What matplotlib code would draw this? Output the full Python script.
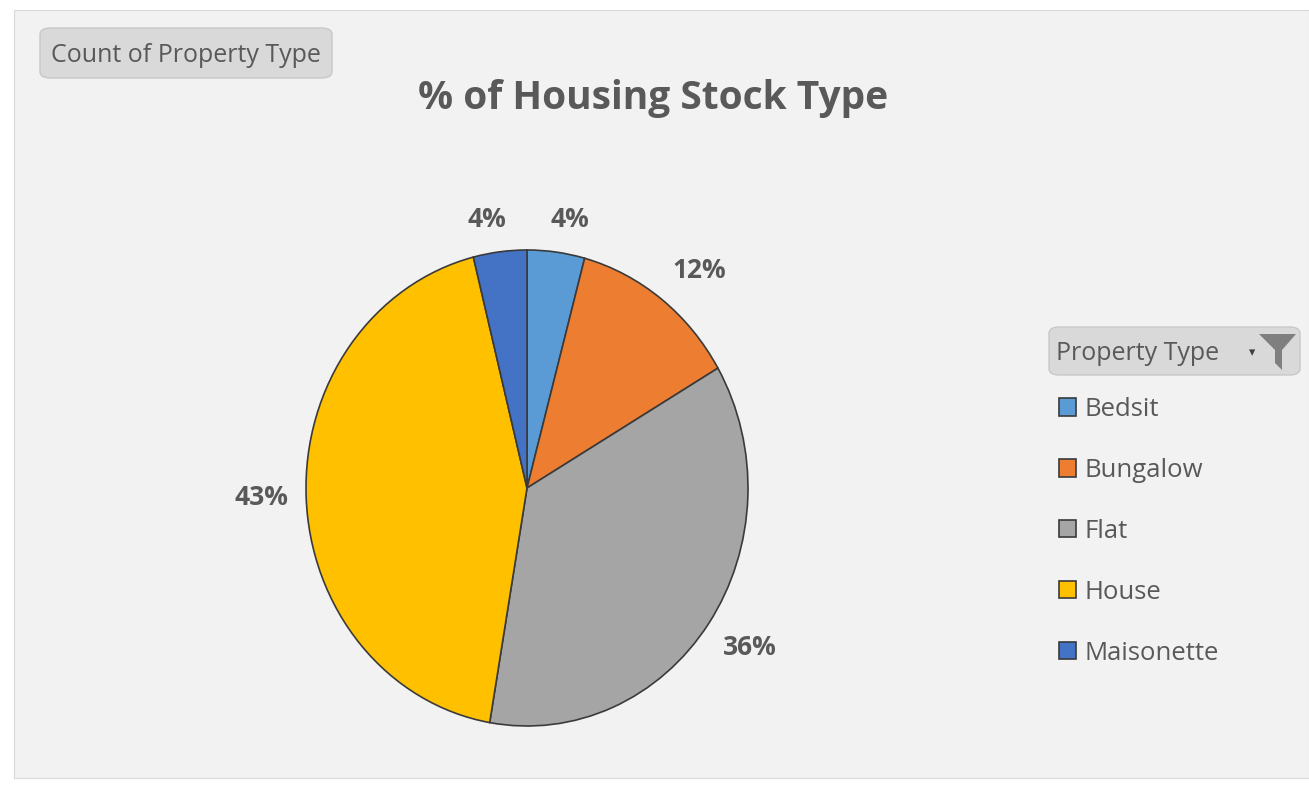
import numpy as np
import matplotlib.pyplot as plt
from matplotlib.patches import FancyBboxPatch, Rectangle, Polygon

# Data (share of housing stock, %)
property_types = ['Bedsit', 'Bungalow', 'Flat', 'House', 'Maisonette']
shares = [4.2, 12.4, 36.1, 43.4, 3.9]
colors = ['#5B9BD5', '#ED7D31', '#A5A5A5', '#FFC000', '#4472C4']

W, H = 1309, 785
plt.rcParams['font.family'] = ['Open Sans', 'DejaVu Sans']
text_col = '#595959'

fig = plt.figure(figsize=(W / 100, H / 100), dpi=100)
fig.patch.set_facecolor('white')

# chart area background
fig.add_artist(Rectangle((14 / W, 1 - 778 / H), (W - 14) / W, 768 / H,
                         transform=fig.transFigure, facecolor='#F2F2F2',
                         edgecolor='#D9D9D9', linewidth=0.8, zorder=0))

# pie axes (slightly stretched vertically like the source)
cx, cy, rx, ry = 527, 488, 221, 238
ax = fig.add_axes([(cx - rx) / W, (H - cy - ry) / H, 2 * rx / W, 2 * ry / H])
wedges, _ = ax.pie(shares, colors=colors, startangle=90, counterclock=False,
                   wedgeprops=dict(edgecolor='#3A3A3A', linewidth=1.2))
ax.set_aspect('auto')
ax.set_xlim(-1, 1)
ax.set_ylim(-1, 1)
ax.patch.set_visible(False)

# outside-end data labels, Excel style
total = sum(shares)
for w, v in zip(wedges, shares):
    ang = np.deg2rad((w.theta1 + w.theta2) / 2)
    c, s = np.cos(ang), np.sin(ang)
    x, y = 1.08 * c, 1.08 * s
    ha = 'left' if c > 0.3 else ('right' if c < -0.3 else 'center')
    va = 'bottom' if s > 0.3 else ('top' if s < -0.3 else 'center')
    if ha == 'center':
        x += 0.05 * np.sign(c)  # spread the two small labels apart a bit
    ax.text(x, y, f'{v / total * 100:.0f}%', ha=ha, va=va,
            fontsize=19, fontweight='bold', color=text_col, clip_on=False)

# title
fig.text(653 / W, 1 - 98 / H, '% of Housing Stock Type', ha='center', va='center',
         fontsize=28, fontweight='bold', color=text_col)

# "Count of Property Type" field button
fig.add_artist(FancyBboxPatch((40 / W, 1 - 78 / H), 292 / W, 50 / H,
                              boxstyle='round,pad=0,rounding_size=0.008',
                              transform=fig.transFigure, facecolor='#D9D9D9',
                              edgecolor='#C8C8C8', linewidth=1))
fig.text(186 / W, 1 - 55 / H, 'Count of Property Type', ha='center', va='center',
         fontsize=18, color=text_col)

# "Property Type" field button with filter icon
fig.add_artist(FancyBboxPatch((1049 / W, 1 - 375 / H), 251 / W, 48 / H,
                              boxstyle='round,pad=0,rounding_size=0.008',
                              transform=fig.transFigure, facecolor='#D9D9D9',
                              edgecolor='#C8C8C8', linewidth=1))
fig.text(1056 / W, 1 - 353 / H, 'Property Type', ha='left', va='center',
         fontsize=18, color=text_col)
funnel = [(1259, 334), (1296, 334), (1282, 350), (1282, 370), (1275, 363), (1275, 350)]
fig.add_artist(Polygon([(x / W, 1 - y / H) for x, y in funnel], closed=True,
                       transform=fig.transFigure, facecolor='#7F7F7F', edgecolor='none'))
fig.text(1252 / W, 1 - 353 / H, '▾', ha='center', va='center', fontsize=9,
         color='#404040', family='DejaVu Sans')

# legend
leg = fig.legend(wedges, property_types, loc='upper left',
                 bbox_to_anchor=(1059 / W, 1 - 397 / H), frameon=False,
                 fontsize=18.5, labelcolor=text_col, handlelength=0.65,
                 handleheight=0.65, handletextpad=0.35, labelspacing=1.4,
                 borderaxespad=0, borderpad=0)
for h in leg.legend_handles:
    h.set_edgecolor('#3A3A3A')
    h.set_linewidth(1.2)

fig.savefig('out.png', dpi=100)
